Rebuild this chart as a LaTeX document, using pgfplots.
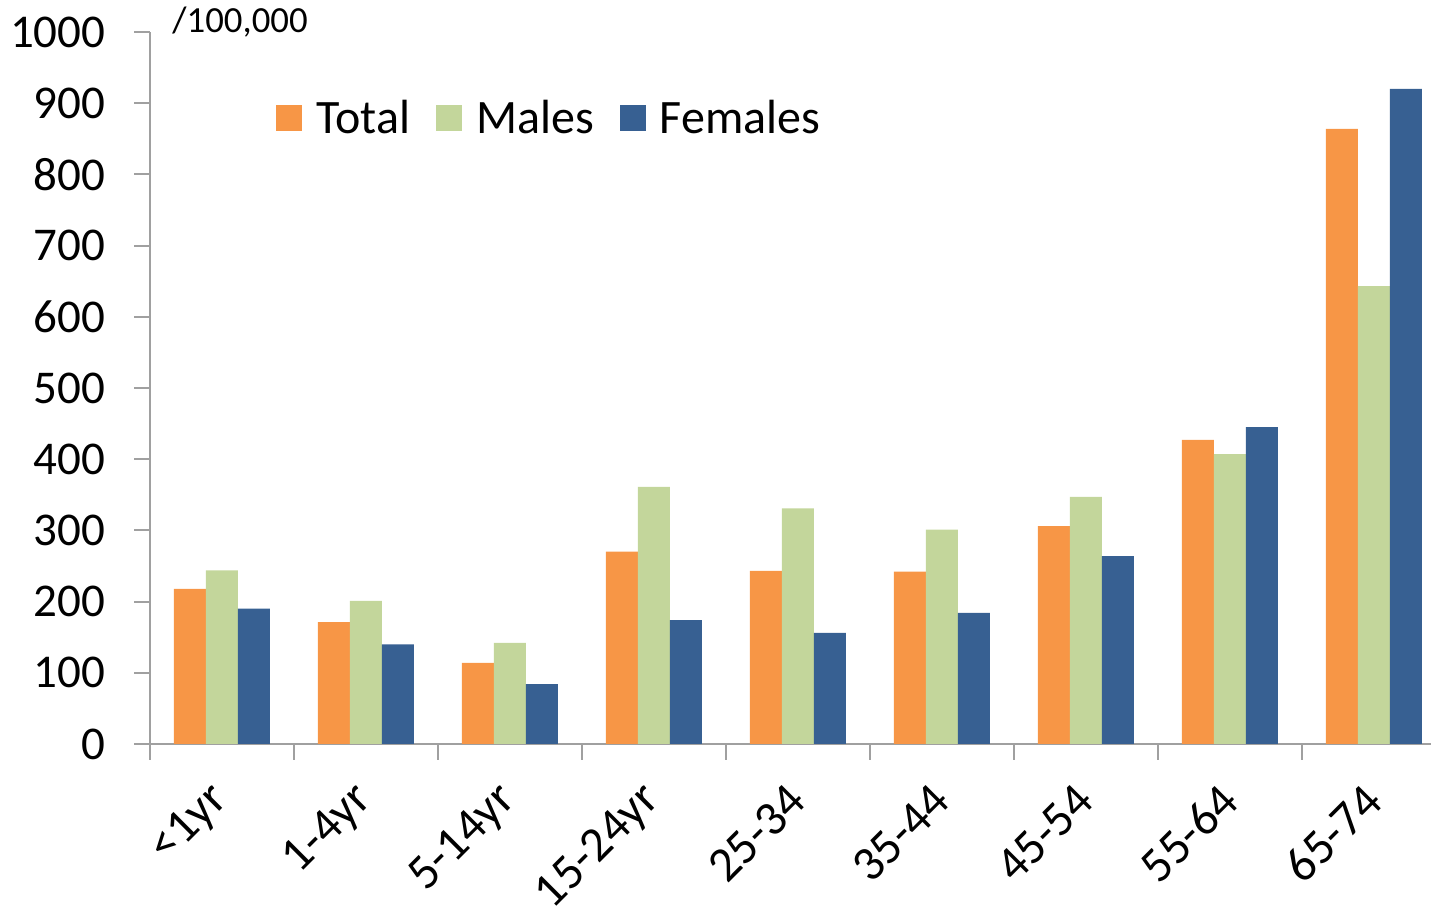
\documentclass[border=0pt]{standalone}
\usepackage{pgfplots}
\pgfplotsset{compat=1.18}
\usepackage{fontspec}
\setmainfont{Carlito}
\definecolor{cTot}{HTML}{F79646}
\definecolor{cMal}{HTML}{C3D69B}
\definecolor{cFem}{HTML}{376092}
\definecolor{axgray}{HTML}{A0A0A0}
\begin{document}
\begin{tikzpicture}
\begin{axis}[
  at={(75pt,85pt)}, anchor=south west,
  width=648pt, height=356pt, scale only axis,
  xmin=-0.5, xmax=8.5, ymin=0, ymax=1000,
  axis lines*=left,
  axis line style={axgray, line width=1pt},
  every tick/.style={axgray, line width=1pt},
  tick align=outside,
  major tick length=7.8pt,
  ybar=0pt, bar width=16pt,
  ytick={0,100,...,1000},
  yticklabel style={font=\fontsize{23.5}{28}\selectfont, /pgf/number format/assume math mode=true, xshift=-11pt},
  /pgf/number format/1000 sep={},
  xtick={-0.5,0.5,...,8.5},
  xticklabels={},
  extra x ticks={0,...,8},
  extra x tick labels={<1yr,1-4yr,5-14yr,15-24yr,25-34,35-44,45-54,55-64,65-74},
  extra x tick style={major tick length=0pt, tick style={draw=none},
     xticklabel style={font=\fontsize{24.5}{29}\selectfont, xshift=2pt, yshift=-22pt, rotate=45, anchor=east}},
  legend style={at={(rel axis cs:0.0925,0.879)}, anchor=west, draw=none, fill=none,
    legend columns=-1, font=\fontsize{24}{28}\selectfont,
    /tikz/every odd column/.append style={column sep=5pt},
    /tikz/every even column/.append style={column sep=11pt}},
  legend image code/.code={\fill[#1] (0pt,-6.5pt) rectangle (13pt,6.5pt);},
  clip=false,
]
\addplot[fill=cTot, draw=none] coordinates {(0,218) (1,171) (2,114) (3,270) (4,243) (5,242) (6,306) (7,427) (8,864)};
\addplot[fill=cMal, draw=none] coordinates {(0,244) (1,201) (2,142) (3,361) (4,331) (5,301) (6,347) (7,407) (8,643)};
\addplot[fill=cFem, draw=none] coordinates {(0,190) (1,140) (2,84) (3,174) (4,156) (5,184) (6,264) (7,445) (8,920)};
\legend{Total,Males,Females}
\end{axis}
\node[anchor=west, inner sep=0pt, font=\fontsize{18.4}{22}\selectfont] at (86pt,446pt) {/100,000};
\pgfresetboundingbox
\path[use as bounding box] (0,0) rectangle (715.5pt,457pt);
\end{tikzpicture}
\end{document}
